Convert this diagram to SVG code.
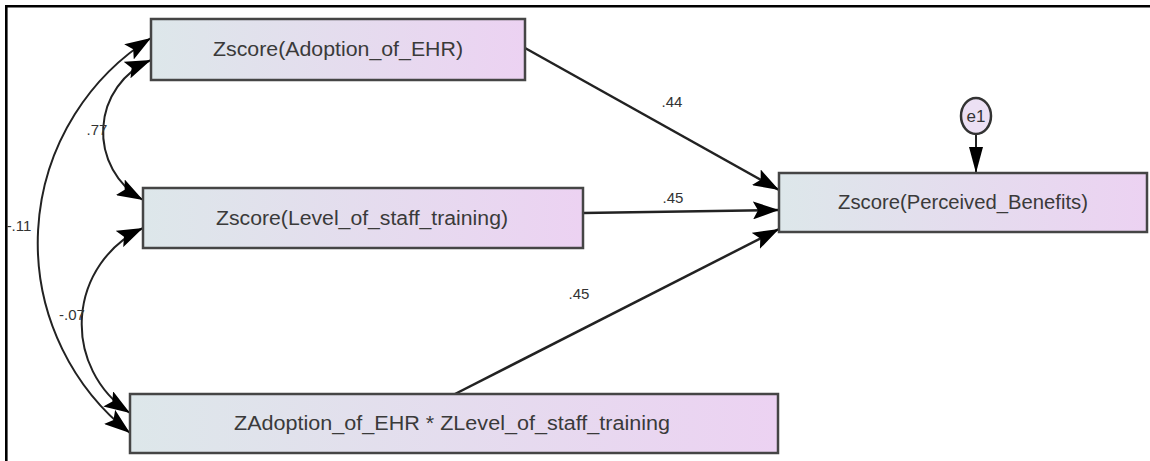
<svg xmlns="http://www.w3.org/2000/svg" width="1150" height="461" viewBox="0 0 1150 461">
<defs>
<linearGradient id="fill" x1="0" y1="0" x2="1" y2="0">
<stop offset="0" stop-color="#dde7ea"/>
<stop offset="1" stop-color="#ecd2f2"/>
</linearGradient>
<marker id="ah" viewBox="0 0 26 18" refX="26" refY="9" markerWidth="26" markerHeight="18" markerUnits="userSpaceOnUse" orient="auto-start-reverse">
<path d="M0,0 L26,9 L0,18 L5,9 Z" fill="#000"/>
</marker>
<marker id="ahn" viewBox="0 0 26 14" refX="26" refY="7" markerWidth="26" markerHeight="14" markerUnits="userSpaceOnUse" orient="auto">
<path d="M0,0 L26,7 L0,14 Z" fill="#000"/>
</marker>
</defs>
<style>
.box{fill:url(#fill);stroke:#454545;stroke-width:2.5}
.t{font-family:"Liberation Sans",Arial,sans-serif;font-size:20px;fill:#3a3a3a;text-anchor:middle}
.l{font-family:"Liberation Sans",Arial,sans-serif;font-size:15px;fill:#333;text-anchor:middle}
.c{fill:none;stroke:#222;stroke-width:2;marker-start:url(#ah);marker-end:url(#ah)}
.a{fill:none;stroke:#222;stroke-width:2.5;marker-end:url(#ah)}
</style>
<rect x="0" y="0" width="1150" height="461" fill="#fff"/>
<path d="M6.3,461 V6.3 H1150" fill="none" stroke="#000" stroke-width="2.6"/>

<g id="connectors">
<path class="a" d="M525,48 L779,190"/>
<path class="a" d="M583,213 L779,210"/>
<path class="a" d="M455,394 L779,229"/>
<path d="M976,134 L976,173" fill="none" stroke="#222" stroke-width="2" marker-end="url(#ahn)"/>
<path class="c" d="M151,38 A242,242 0 0 0 130,433"/>
<path class="c" d="M151,60 A78,78 0 0 0 143,200"/>
<path class="c" d="M143,228 A106,106 0 0 0 130,413"/>
<text class="l" x="672" y="107">.44</text>
<text class="l" x="673" y="203">.45</text>
<text class="l" x="579" y="299">.45</text>
<text class="l" x="97" y="135">.77</text>
<text class="l" x="19" y="231">-.11</text>
<text class="l" x="72" y="320">-.07</text>
</g>

<g id="adoption">
<rect class="box" x="151" y="19" width="374" height="61"/>
<text class="t" x="338" y="56" textLength="250" lengthAdjust="spacingAndGlyphs">Zscore(Adoption_of_EHR)</text>
</g>
<g id="training">
<rect class="box" x="143" y="188" width="440" height="60"/>
<text class="t" x="362" y="225" textLength="292" lengthAdjust="spacingAndGlyphs">Zscore(Level_of_staff_training)</text>
</g>
<g id="interaction">
<rect class="box" x="130" y="394" width="648" height="59"/>
<text class="t" x="452" y="430" textLength="436" lengthAdjust="spacingAndGlyphs">ZAdoption_of_EHR * ZLevel_of_staff_training</text>
</g>
<g id="benefits">
<rect class="box" x="779" y="173" width="368" height="59"/>
<text class="t" x="963" y="209" textLength="250" lengthAdjust="spacingAndGlyphs">Zscore(Perceived_Benefits)</text>
</g>
<g id="e1">
<ellipse cx="976" cy="116" rx="15" ry="18" fill="#ece0f4" stroke="#333" stroke-width="2.5"/>
<text class="l" x="976" y="122" style="font-size:17px">e1</text>
</g>
</svg>
